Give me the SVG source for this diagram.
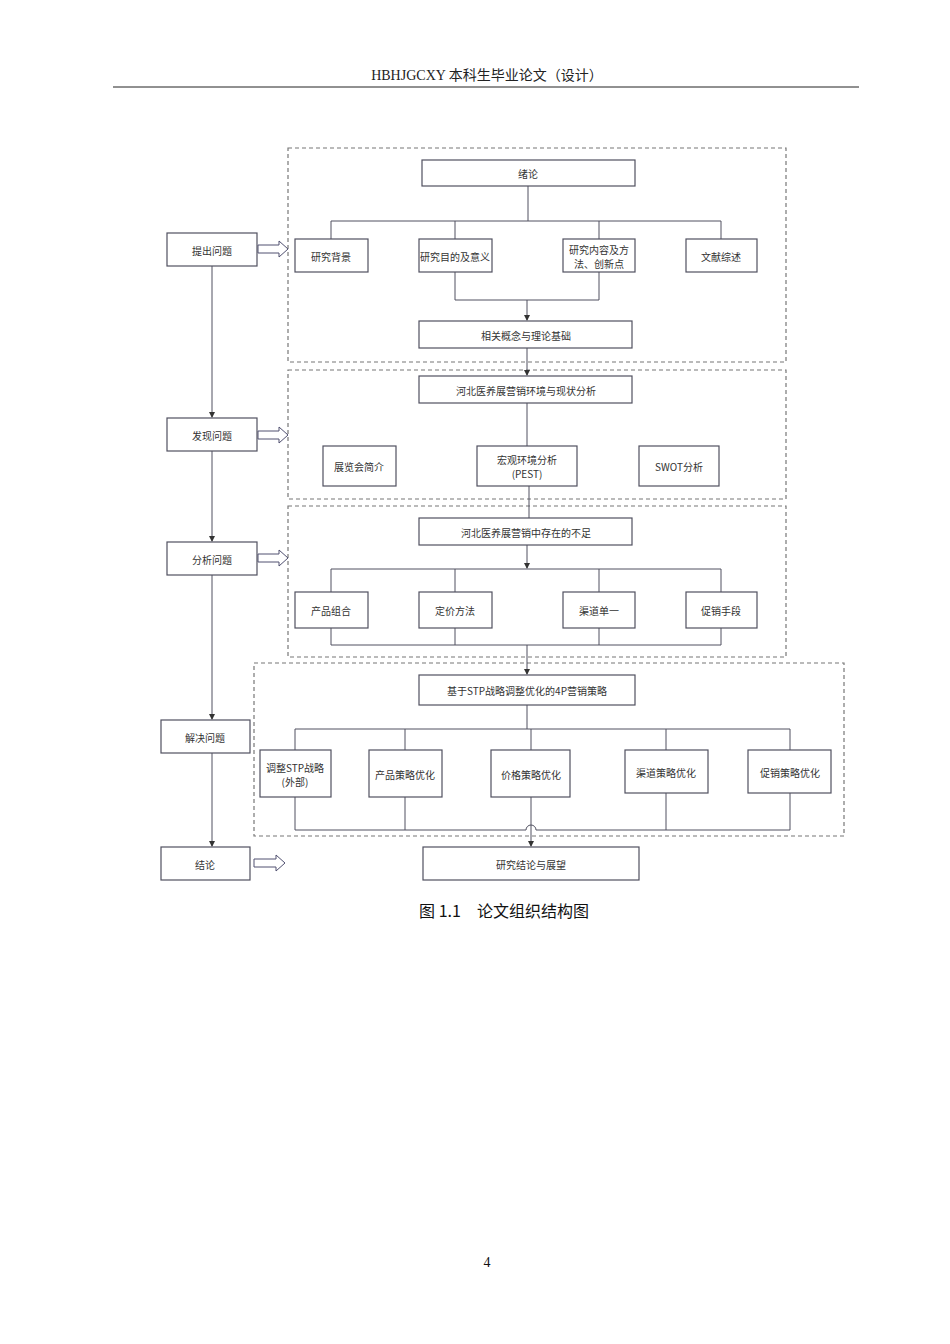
<svg xmlns="http://www.w3.org/2000/svg" width="950" height="1344" viewBox="0 0 950 1344">
<style>
.n{fill:#fff;stroke:#505060;stroke-width:1.2}
.t{font-family:"Noto Sans CJK SC","Liberation Sans",sans-serif;font-size:10px;fill:#333;text-anchor:middle;dominant-baseline:central}
.c{fill:none;stroke:#505060;stroke-width:1}
.d{fill:none;stroke:#777;stroke-width:1.2;stroke-dasharray:4 3}
.h{fill:#fff;stroke:#505070;stroke-width:1}
</style>
<defs><marker id="a" markerWidth="6" markerHeight="6" refX="5" refY="3" orient="auto"><path d="M0,0L6,3L0,6z" fill="#333"/></marker></defs>
<rect width="950" height="1344" fill="#fff"/>
<text x="487" y="80" font-family="Liberation Serif,Noto Sans CJK SC,serif" font-size="14" text-anchor="middle" fill="#222">HBHJGCXY 本科生毕业论文（设计）</text>
<line x1="113" y1="87" x2="859" y2="87" stroke="#222" stroke-width="1"/>
<g id="frames">
<rect class="d" x="288" y="148" width="498" height="214"/>
<rect class="d" x="288" y="370" width="498" height="129"/>
<rect class="d" x="288" y="506" width="498" height="151"/>
<rect class="d" x="254" y="663" width="590" height="173"/>
</g>
<g id="connectors">
<path class="c" d="M528,186V221M331,239V221H721V239M455,221V239M599,221V239"/>
<path class="c" d="M455,272V300H599V272M527,300V320" marker-end="url(#a)"/>
<path class="c" d="M527,348V375" marker-end="url(#a)"/>
<path class="c" d="M527,403V446M529,486V518"/>
<path class="c" d="M527,545V568" marker-end="url(#a)"/>
<path class="c" d="M331,592V569H721V592M455,569V592M599,569V592"/>
<path class="c" d="M331,628V645H721V628M455,628V645M599,628V645"/>
<path class="c" d="M527,645V674" marker-end="url(#a)"/>
<path class="c" d="M527,705V729M295,750V729H790V750M405,729V750M531,729V750M666,729V750"/>
<path class="c" d="M295,797V830H526A5,5 0 0 1 536,830H790V793M405,797V830M666,793V830"/>
<path class="c" d="M531,797V846" marker-end="url(#a)"/>
<path class="c" d="M212,266V417" marker-end="url(#a)"/>
<path class="c" d="M212,451V541" marker-end="url(#a)"/>
<path class="c" d="M212,575V719" marker-end="url(#a)"/>
<path class="c" d="M212,753V846" marker-end="url(#a)"/>
<path class="h" d="M258,245H279V241L288,249L279,257V253H258Z"/>
<path class="h" d="M258,431H279V427L288,435L279,443V439H258Z"/>
<path class="h" d="M258,554H279V550L288,558L279,566V562H258Z"/>
<path class="h" d="M254,859H276V855L285,863L276,871V867H254Z"/>
</g>
<g id="n1"><rect class="n" x="422" y="160" width="213" height="26"/><text class="t" x="528" y="173">绪论</text></g>
<g id="n2"><rect class="n" x="295" y="239" width="73" height="33"/><text class="t" x="331" y="256">研究背景</text></g>
<g id="n3"><rect class="n" x="419" y="239" width="73" height="33"/><text class="t" x="455" y="256">研究目的及意义</text></g>
<g id="n4"><rect class="n" x="563" y="239" width="72" height="33"/><text class="t" x="599" y="249">研究内容及方</text><text class="t" x="599" y="263">法、创新点</text></g>
<g id="n5"><rect class="n" x="686" y="239" width="71" height="33"/><text class="t" x="721" y="256">文献综述</text></g>
<g id="n6"><rect class="n" x="419" y="321" width="213" height="27"/><text class="t" x="526" y="335">相关概念与理论基础</text></g>
<g id="n7"><rect class="n" x="419" y="376" width="213" height="27"/><text class="t" x="526" y="390">河北医养展营销环境与现状分析</text></g>
<g id="n8"><rect class="n" x="323" y="446" width="73" height="40"/><text class="t" x="359" y="466">展览会简介</text></g>
<g id="n9"><rect class="n" x="477" y="446" width="100" height="40"/><text class="t" x="527" y="459">宏观环境分析</text><text class="t" x="527" y="473">(PEST)</text></g>
<g id="n10"><rect class="n" x="639" y="446" width="80" height="40"/><text class="t" x="679" y="466">SWOT分析</text></g>
<g id="n11"><rect class="n" x="419" y="518" width="213" height="27"/><text class="t" x="526" y="532">河北医养展营销中存在的不足</text></g>
<g id="n12"><rect class="n" x="295" y="592" width="73" height="36"/><text class="t" x="331" y="610">产品组合</text></g>
<g id="n13"><rect class="n" x="419" y="592" width="73" height="36"/><text class="t" x="455" y="610">定价方法</text></g>
<g id="n14"><rect class="n" x="563" y="592" width="72" height="36"/><text class="t" x="599" y="610">渠道单一</text></g>
<g id="n15"><rect class="n" x="686" y="592" width="71" height="36"/><text class="t" x="721" y="610">促销手段</text></g>
<g id="n16"><rect class="n" x="419" y="675" width="216" height="30"/><text class="t" x="527" y="690">基于STP战略调整优化的4P营销策略</text></g>
<g id="n17"><rect class="n" x="260" y="750" width="71" height="47"/><text class="t" x="295" y="767">调整STP战略</text><text class="t" x="295" y="781">(外部)</text></g>
<g id="n18"><rect class="n" x="369" y="750" width="73" height="47"/><text class="t" x="405" y="774">产品策略优化</text></g>
<g id="n19"><rect class="n" x="491" y="750" width="79" height="47"/><text class="t" x="531" y="774">价格策略优化</text></g>
<g id="n20"><rect class="n" x="625" y="750" width="83" height="43"/><text class="t" x="666" y="772">渠道策略优化</text></g>
<g id="n21"><rect class="n" x="748" y="750" width="83" height="43"/><text class="t" x="790" y="772">促销策略优化</text></g>
<g id="n22"><rect class="n" x="423" y="847" width="216" height="33"/><text class="t" x="531" y="864">研究结论与展望</text></g>
<g id="l1"><rect class="n" x="167" y="233" width="90" height="33"/><text class="t" x="212" y="250">提出问题</text></g>
<g id="l2"><rect class="n" x="167" y="418" width="90" height="33"/><text class="t" x="212" y="435">发现问题</text></g>
<g id="l3"><rect class="n" x="167" y="542" width="90" height="33"/><text class="t" x="212" y="559">分析问题</text></g>
<g id="l4"><rect class="n" x="161" y="720" width="89" height="33"/><text class="t" x="205" y="737">解决问题</text></g>
<g id="l5"><rect class="n" x="161" y="847" width="89" height="33"/><text class="t" x="205" y="864">结论</text></g>
<text x="504" y="917" font-family="Noto Sans CJK SC,sans-serif" font-size="16" text-anchor="middle" fill="#111">图 1.1　论文组织结构图</text>
<text x="487" y="1267" font-family="Liberation Serif,serif" font-size="14" text-anchor="middle" fill="#111">4</text>
</svg>
